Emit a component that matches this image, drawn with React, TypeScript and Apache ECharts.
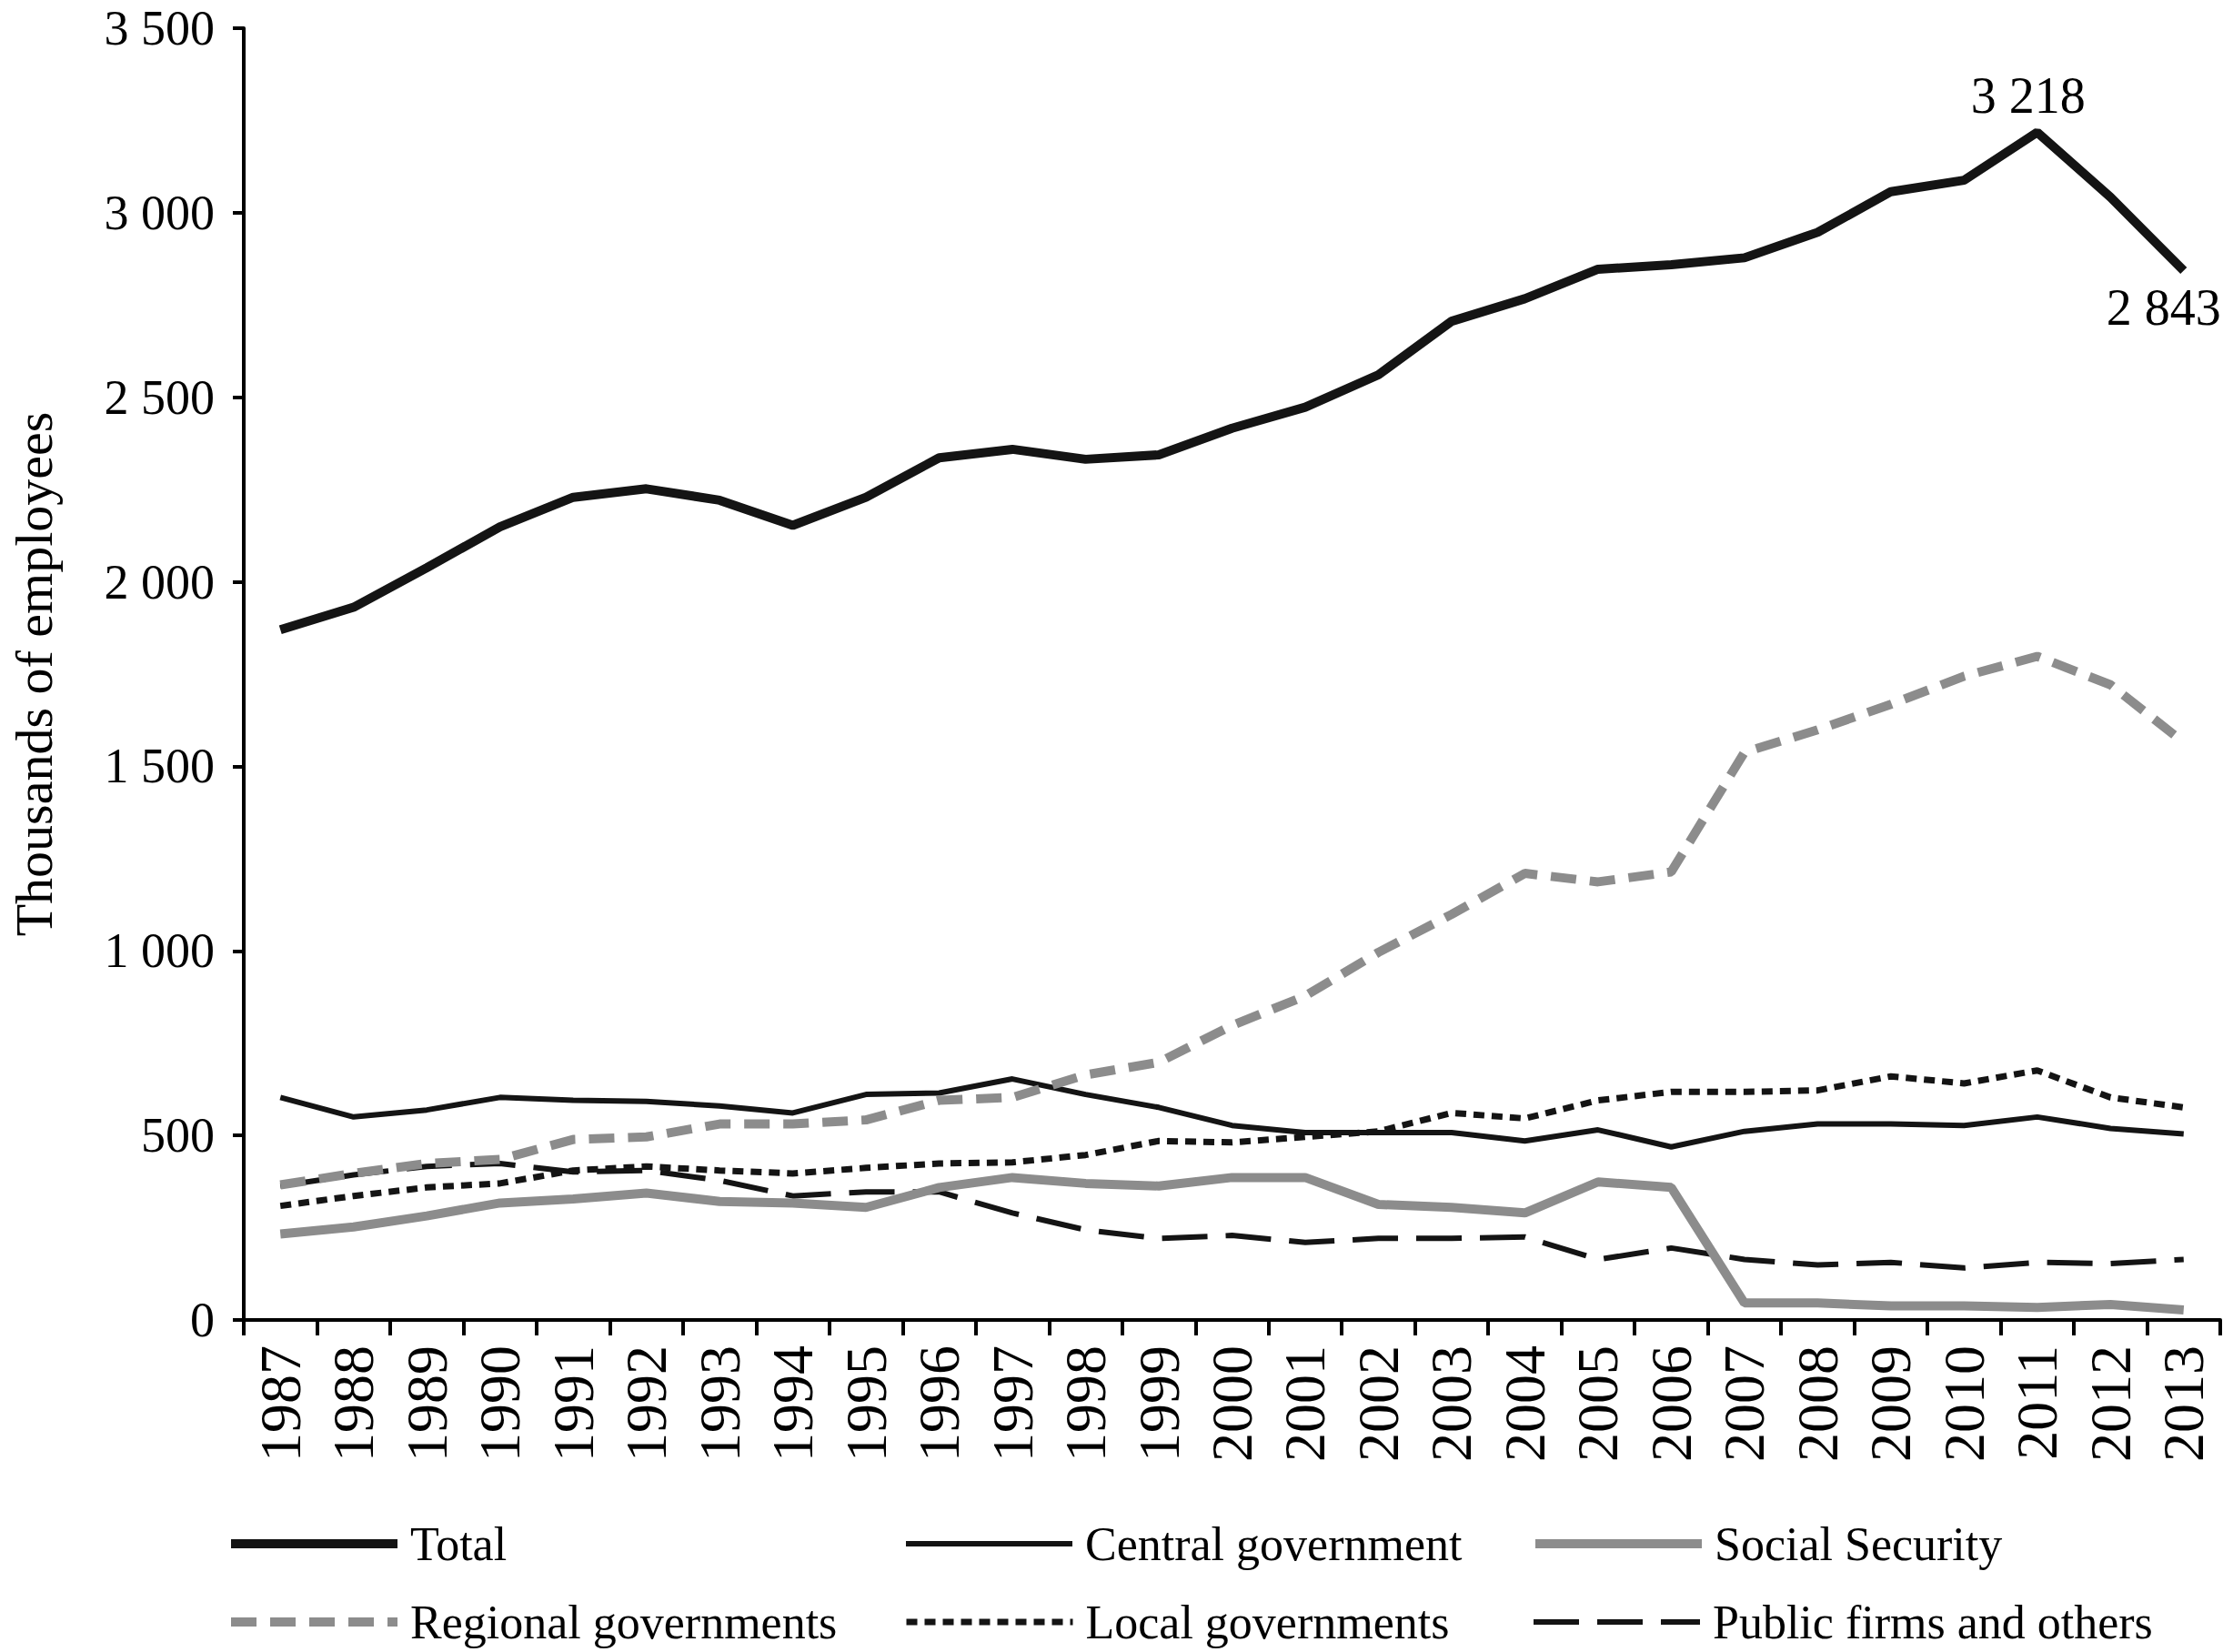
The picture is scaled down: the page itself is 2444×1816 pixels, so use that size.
import React, { useEffect, useRef } from "react";
import * as echarts from "echarts";

const years = ["1987","1988","1989","1990","1991","1992","1993","1994","1995","1996","1997","1998","1999","2000","2001","2002","2003","2004","2005","2006","2007","2008","2009","2010","2011","2012","2013"];

const totalValues = [1870,1931,2038,2149,2229,2252,2221,2153,2229,2336,2359,2332,2344,2416,2473,2561,2706,2767,2847,2859,2878,2947,3057,3088,3218,3042,2843];
const centralValues = [603,550,569,603,595,592,580,561,611,615,653,611,576,527,508,508,508,485,515,469,511,531,531,527,550,519,504];
const socialValues = [233,252,282,317,328,344,321,317,305,359,386,370,363,386,386,313,305,290,374,359,46,46,38,38,34,42,27];
const regionalValues = [366,397,424,435,489,496,531,531,542,595,603,664,698,798,878,996,1099,1210,1187,1214,1538,1599,1668,1744,1798,1721,1565];
const localValues = [309,336,359,370,405,416,405,397,412,424,427,447,485,481,496,511,561,546,595,618,618,622,660,641,676,603,576];
const publicValues = [363,393,416,424,401,405,378,336,347,347,290,244,221,229,210,221,221,225,164,195,164,149,156,141,156,153,164];

const yTicks = { min: 0, max: 3500, interval: 500 };
const labelledTotalIndices = [24, 26];

const legendRow1 = ["Total", "Central government", "Social Security"];
const legendRow2 = ["Regional governments", "Local governments", "Public firms and others"];

const FONT = "Liberation Serif";

function fmt(v: number): string {
  if (v >= 1000) {
    return `${Math.floor(v / 1000)} ${String(v % 1000).padStart(3, "0")}`;
  }
  return String(v);
}

export default function App() {
  const ref = useRef<HTMLDivElement>(null);
  useEffect(() => {
    if (!ref.current) return;
    const chart = echarts.init(ref.current, undefined, { renderer: "svg" });
    const black = "#141414";
    const gray = "#8c8c8c";

    const totalData = totalValues.map((v, i) => {
      if (i === labelledTotalIndices[0]) {
        return { value: v, label: { show: true, position: "top", distance: 18, offset: [-10, 0], formatter: () => fmt(v) } };
      }
      if (i === labelledTotalIndices[1]) {
        return { value: v, label: { show: true, position: "bottom", distance: 18, offset: [-22, 0], formatter: () => fmt(v) } };
      }
      return v;
    });

    const colLefts = [244, 988, 1678];
    const rowTops = [1664, 1750];
    const legends: any[] = [];
    [legendRow1, legendRow2].forEach((row, r) => {
      row.forEach((name, c) => {
        legends.push({
          orient: "horizontal",
          left: colLefts[c],
          top: rowTops[r],
          itemWidth: 183,
          itemHeight: 20,
          selectedMode: false,
          data: [name],
          lineStyle: { width: "inherit", type: "inherit", cap: "butt" },
          itemStyle: { opacity: 0 },
          textStyle: { fontFamily: FONT, fontSize: 52, color: "#000", lineHeight: 56, padding: [0, 0, 0, 9] },
        });
      });
    });

    chart.setOption({
      animation: false,
      backgroundColor: "#fff",
      grid: { left: 245, right: 3, top: 31, bottom: 365 },
      legend: legends,
      xAxis: {
        type: "category",
        data: years,
        boundaryGap: true,
        axisLine: { lineStyle: { color: "#000", width: 4 } },
        axisTick: { show: true, interval: 0, alignWithLabel: false, length: 17, lineStyle: { color: "#000", width: 4 } },
        axisLabel: { interval: 0, rotate: 90, margin: 28, fontFamily: FONT, fontSize: 64, color: "#000" },
        splitLine: { show: false },
      },
      yAxis: {
        type: "value",
        min: yTicks.min,
        max: yTicks.max,
        interval: yTicks.interval,
        name: "Thousands of employees",
        nameLocation: "middle",
        nameRotate: 90,
        nameGap: 202,
        nameTextStyle: { fontFamily: FONT, fontSize: 58, color: "#000" },
        axisLine: { show: true, lineStyle: { color: "#000", width: 4 } },
        axisTick: { show: true, length: 12, lineStyle: { color: "#000", width: 4 } },
        axisLabel: { margin: 32, fontFamily: FONT, fontSize: 54, lineHeight: 44, color: "#000", formatter: (v: number) => fmt(v) },
        splitLine: { show: false },
      },
      series: [
        {
          name: "Public firms and others",
          type: "line",
          data: publicValues,
          symbol: "none",
          lineStyle: { color: black, width: 6, type: [50, 20] },
          itemStyle: { color: black },
          z: 2,
        },
        {
          name: "Local governments",
          type: "line",
          data: localValues,
          symbol: "none",
          lineStyle: { color: black, width: 7, type: [12, 8] },
          itemStyle: { color: black },
          z: 2,
        },
        {
          name: "Central government",
          type: "line",
          data: centralValues,
          symbol: "none",
          lineStyle: { color: black, width: 6 },
          itemStyle: { color: black },
          z: 2,
        },
        {
          name: "Social Security",
          type: "line",
          data: socialValues,
          symbol: "none",
          lineStyle: { color: gray, width: 10 },
          itemStyle: { color: gray },
          z: 3,
        },
        {
          name: "Regional governments",
          type: "line",
          data: regionalValues,
          symbol: "none",
          lineStyle: { color: gray, width: 10, type: [28, 15] },
          itemStyle: { color: gray },
          z: 3,
        },
        {
          name: "Total",
          type: "line",
          data: totalData,
          symbol: "circle",
          symbolSize: 0,
          showSymbol: true,
          showAllSymbol: true,
          lineStyle: { color: black, width: 10 },
          itemStyle: { color: black },
          label: { show: false, fontFamily: FONT, fontSize: 56, lineHeight: 44, color: "#000" },
          z: 4,
        },
      ],
    });
    return () => chart.dispose();
  }, []);
  return <div ref={ref} style={{ position: "absolute", left: 0, top: 0, width: 2444, height: 1816 }} />;
}
